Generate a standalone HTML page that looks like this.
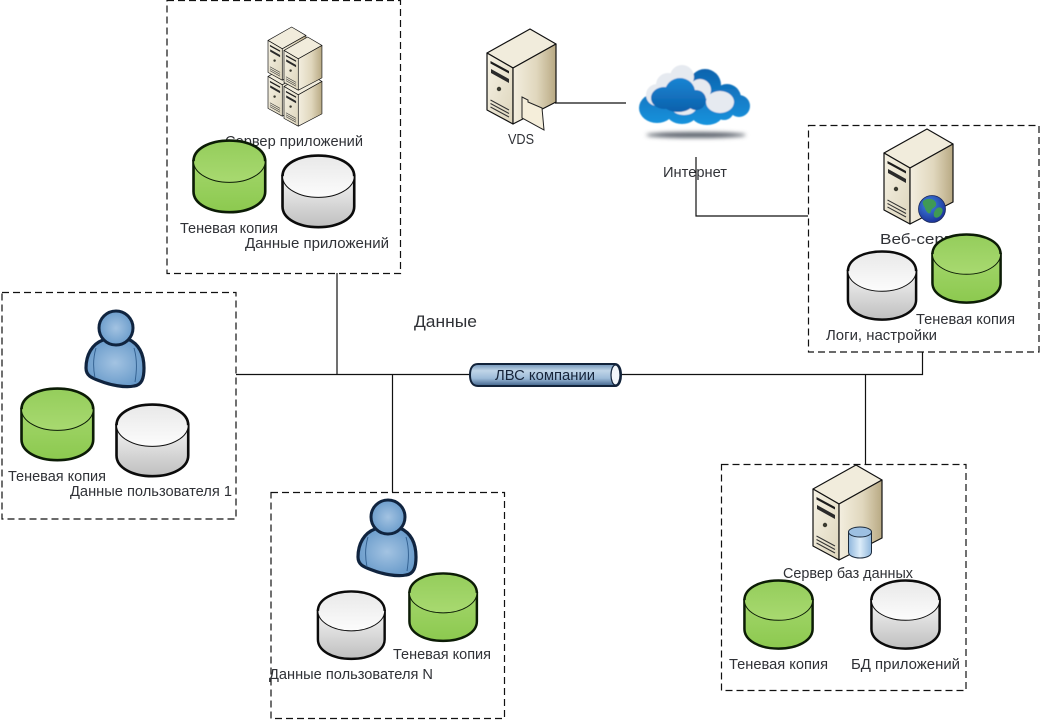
<!DOCTYPE html>
<html><head><meta charset="utf-8">
<style>
html,body{margin:0;padding:0;background:#fff;width:1041px;height:720px;overflow:hidden}
svg{display:block}
text{font-family:"Liberation Sans",sans-serif;font-size:15px;fill:#2f3136}
</style></head><body>
<svg width="1041" height="720" viewBox="0 0 1041 720" xmlns="http://www.w3.org/2000/svg">
<defs>
<linearGradient id="gs" x1="0" y1="0" x2="0" y2="1"><stop offset="0" stop-color="#f4f4f4"/><stop offset="1" stop-color="#bfbfbf"/></linearGradient>
<linearGradient id="gt" x1="0" y1="0" x2="0" y2="1"><stop offset="0" stop-color="#e8e8e8"/><stop offset="1" stop-color="#fcfcfc"/></linearGradient>
<linearGradient id="grs" x1="0" y1="0" x2="0" y2="1"><stop offset="0" stop-color="#a3d66b"/><stop offset="1" stop-color="#8cc94f"/></linearGradient>
<linearGradient id="grt" x1="0" y1="0" x2="0" y2="1"><stop offset="0" stop-color="#94cd5b"/><stop offset="1" stop-color="#a8d970"/></linearGradient>
<linearGradient id="tf" x1="0" y1="0" x2="1" y2="1"><stop offset="0" stop-color="#f6f2e4"/><stop offset="1" stop-color="#ddd5bc"/></linearGradient>
<linearGradient id="tr" x1="0" y1="0" x2="1" y2="0"><stop offset="0" stop-color="#f3eedf"/><stop offset="0.55" stop-color="#e0d7bd"/><stop offset="1" stop-color="#b8a983"/></linearGradient>
<linearGradient id="pipe" x1="0" y1="0" x2="0" y2="1"><stop offset="0" stop-color="#6f93b8"/><stop offset="0.3" stop-color="#c0d5e8"/><stop offset="0.65" stop-color="#9dbbd8"/><stop offset="1" stop-color="#3f628a"/></linearGradient>
<radialGradient id="pb" cx="0.5" cy="0.5" r="0.65"><stop offset="0" stop-color="#a3c3e2"/><stop offset="1" stop-color="#5c92c5"/></radialGradient>
<radialGradient id="glb" cx="0.4" cy="0.35" r="0.7"><stop offset="0" stop-color="#3f86e0"/><stop offset="1" stop-color="#1a2f96"/></radialGradient>
<linearGradient id="cb" gradientUnits="userSpaceOnUse" x1="0" y1="77" x2="0" y2="114"><stop offset="0" stop-color="#1b86d4"/><stop offset="1" stop-color="#0b5ea9"/></linearGradient>
<linearGradient id="cb2" gradientUnits="userSpaceOnUse" x1="0" y1="68" x2="0" y2="126"><stop offset="0" stop-color="#0d62ad"/><stop offset="1" stop-color="#1a94de"/></linearGradient>
<linearGradient id="mini" x1="0" y1="0" x2="1" y2="0"><stop offset="0" stop-color="#8fb6dc"/><stop offset="0.5" stop-color="#dcecf9"/><stop offset="1" stop-color="#8fb6dc"/></linearGradient>
<filter id="bl" x="-20%" y="-200%" width="140%" height="500%"><feGaussianBlur stdDeviation="2"/></filter>
<filter id="soft" x="-5%" y="-5%" width="110%" height="110%"><feGaussianBlur stdDeviation="0.5"/></filter>

<g id="cylW">
<path d="M1.5 22 V52 C1.5 64 17 72.5 37 72.5 S72.5 64 72.5 52 V22 Z" fill="url(#gs)" stroke="#0b0b0b" stroke-width="2.6"/>
<ellipse cx="37" cy="22" rx="35.5" ry="21" fill="url(#gt)" stroke="#0b0b0b" stroke-width="1"/>
<path d="M1.5 22 C1.5 10 17 1.5 37 1.5 S72.5 10 72.5 22" fill="none" stroke="#0b0b0b" stroke-width="2.6"/>
</g>
<g id="cylG">
<path d="M1.5 22 V52 C1.5 64 17 72.5 37 72.5 S72.5 64 72.5 52 V22 Z" fill="url(#grs)" stroke="#0c1c06" stroke-width="2.6"/>
<ellipse cx="37" cy="22" rx="35.5" ry="21" fill="url(#grt)" stroke="#0c1c06" stroke-width="1"/>
<path d="M1.5 22 C1.5 10 17 1.5 37 1.5 S72.5 10 72.5 22" fill="none" stroke="#0c1c06" stroke-width="2.6"/>
</g>
<g id="tower">
<polygon points="0,24 43,0 69,15 26,39" fill="#f1ecdc" stroke="#111" stroke-width="1.2" stroke-linejoin="round"/>
<polygon points="0,24 26,39 26,95 0,81" fill="url(#tf)" stroke="#111" stroke-width="1.2" stroke-linejoin="round"/>
<polygon points="26,39 69,15 69,73 26,95" fill="url(#tr)" stroke="#111" stroke-width="1.2" stroke-linejoin="round"/>
<polygon points="3.5,32 22,42 22,44.5 3.5,34.5" fill="#1c1c1c"/>
<polygon points="4,40 22,50 22,54 4,44" fill="#2a2a2a"/>
<circle cx="12" cy="60" r="2.2" fill="#3b3b30"/>
<path d="M3.5 71 L22 81 M3.5 74.5 L22 84.5 M3.5 78 L22 88" stroke="#333" stroke-width="1" fill="none"/>
</g>
<g id="person">
<path d="M103 340 C92 344 86 355 86 368 C86 376 92 378 100 381 C110 385 125 388 134 386 C142 385 144 378 144 368 C144 354 139 344 128 339 Z" fill="url(#pb)" stroke="#10243f" stroke-width="3.2" stroke-linejoin="round"/>
<path d="M96 348 C93 358 93 368 95 378 M134 348 C137 358 137 370 135 382" fill="none" stroke="#2f5d8d" stroke-width="0.9"/>
<circle cx="116" cy="328" r="17" fill="url(#pb)" stroke="#10243f" stroke-width="3"/>
</g>
</defs>

<rect width="1041" height="720" fill="#fff"/>

<!-- connectors -->
<g stroke="#111" stroke-width="1.2" fill="none">
<path d="M236 374.500 H470 M621 374.500 H922.500 V352"/>
<path d="M337 273 V374.500 M392.500 374.500 V492 M865.500 374.500 V464"/>
<path d="M555 103 H626"/>
</g>

<!-- dashed boxes -->
<g fill="none" stroke="#111" stroke-width="1.2" stroke-dasharray="7 4">
<rect x="167" y="0.500" width="233.500" height="273"/>
<rect x="808.500" y="125.500" width="230.500" height="226.500"/>
<rect x="2" y="292.500" width="234" height="226.500"/>
<rect x="271" y="492.500" width="233.500" height="226"/>
<rect x="721.500" y="464.500" width="244.500" height="226"/>
</g>

<!-- labels beneath shapes -->
<text x="225" y="146" textLength="138" lengthAdjust="spacingAndGlyphs">Сервер приложений</text>
<text x="880" y="244" textLength="92" lengthAdjust="spacingAndGlyphs">Веб-сервер</text>
<text x="783" y="578" textLength="130" lengthAdjust="spacingAndGlyphs">Сервер баз данных</text>
<text x="663" y="177" textLength="64" lengthAdjust="spacingAndGlyphs">Интернет</text>
<path d="M696 157 V216 H808" stroke="#111" stroke-width="1.2" fill="none"/>

<!-- app server cluster -->
<use href="#tower" transform="translate(268,63) scale(.55,.56)"/>
<use href="#tower" transform="translate(284,73) scale(.55,.56)"/>
<use href="#tower" transform="translate(268,27) scale(.55,.56)"/>
<use href="#tower" transform="translate(284,37) scale(.55,.56)"/>

<!-- VDS -->
<use href="#tower" transform="translate(487,29)"/>
<polygon points="522,97 528,100 528,102 542,108 544,130 522,118" fill="#f5eeda" stroke="#222" stroke-width="1"/>

<!-- web server -->
<use href="#tower" transform="translate(884,129)"/>
<circle cx="932" cy="209" r="13.500" fill="url(#glb)" stroke="#1a2a5c" stroke-width="0.8"/>
<path d="M923 201 C928 197 935 199 936 203 C937 208 932 207 931 211 C930 216 926 212 925 208 C924 206 922 204 923 201Z" fill="#3f9a55"/>
<path d="M937 208 C941 206 944 209 942 213 C940 218 935 219 934 216 C933 213 935 210 937 208Z" fill="#3f9a55"/>

<!-- db server -->
<use href="#tower" transform="translate(813,465)"/>
<path d="M848.500 532 V552 C848.500 560 871.500 560 871.500 552 V532 Z" fill="url(#mini)" stroke="#1b2a3c" stroke-width="1"/>
<ellipse cx="860" cy="532" rx="11.500" ry="5" fill="#9dc0e2" stroke="#1b2a3c" stroke-width="1"/>

<!-- cloud -->
<ellipse cx="696" cy="135" rx="50" ry="2.800" fill="#555c66" filter="url(#bl)"/>
<g filter="url(#soft)">
<g fill="url(#cb2)">
<circle cx="705" cy="85" r="16"/><circle cx="727" cy="98" r="14"/><circle cx="739" cy="106" r="11"/>
<ellipse cx="707" cy="112" rx="17" ry="13"/><ellipse cx="657" cy="108" rx="18" ry="15"/><ellipse cx="682" cy="112" rx="16" ry="12"/>
<circle cx="724" cy="110" r="10"/>
</g>
<g fill="#e6eaf0">
<circle cx="682" cy="77" r="12"/><circle cx="657" cy="95" r="11"/><circle cx="668" cy="85" r="12"/>
<ellipse cx="720" cy="102" rx="14" ry="11"/><circle cx="700" cy="90" r="11"/><ellipse cx="684" cy="108" rx="12" ry="7"/>
</g>
<g fill="url(#cb)">
<ellipse cx="664" cy="98" rx="13" ry="11"/><ellipse cx="680" cy="92" rx="15" ry="14"/><circle cx="696" cy="100" r="10"/><ellipse cx="678" cy="102" rx="16" ry="10"/>
</g>
</g>

<!-- persons -->
<use href="#person"/>
<use href="#person" transform="translate(272,189)"/>

<!-- cylinders -->
<use href="#cylG" transform="translate(192,139) scale(1.01)"/>
<use href="#cylW" transform="translate(281,154) scale(1.01)"/>
<use href="#cylW" transform="translate(846.500,250) scale(.96)"/>
<use href="#cylG" transform="translate(931,233) scale(.96)"/>
<use href="#cylG" transform="translate(20,387) scale(1.01)"/>
<use href="#cylW" transform="translate(115,403) scale(1.01)"/>
<use href="#cylW" transform="translate(316.500,590) scale(.94,.95)"/>
<use href="#cylG" transform="translate(408,572) scale(.95,.95)"/>
<use href="#cylG" transform="translate(743,579) scale(.96)"/>
<use href="#cylW" transform="translate(870,579) scale(.96)"/>

<!-- pipe -->
<path d="M478 364 H615 C619 364 621 369 621 375 C621 381 619 386 615 386 H478 C472 386 470 381 470 375 C470 369 472 364 478 364Z" fill="url(#pipe)" stroke="#12233a" stroke-width="2"/>
<ellipse cx="615.500" cy="375" rx="4.500" ry="10" fill="#f2f6fa" stroke="#12233a" stroke-width="1.2"/>
<text x="495" y="380" textLength="100" lengthAdjust="spacingAndGlyphs" style="fill:#16243a">ЛВС компании</text>

<!-- labels -->
<text x="180" y="233" textLength="98" lengthAdjust="spacingAndGlyphs">Теневая копия</text>
<text x="245" y="248" textLength="144" lengthAdjust="spacingAndGlyphs">Данные приложений</text>
<text x="508" y="144" textLength="26" lengthAdjust="spacingAndGlyphs">VDS</text>
<text x="916" y="324" textLength="99" lengthAdjust="spacingAndGlyphs">Теневая копия</text>
<text x="826" y="340" textLength="111" lengthAdjust="spacingAndGlyphs">Логи, настройки</text>
<text x="414" y="327" textLength="63" lengthAdjust="spacingAndGlyphs" style="font-size:17px">Данные</text>
<text x="8" y="481" textLength="98" lengthAdjust="spacingAndGlyphs">Теневая копия</text>
<text x="70" y="496" textLength="162" lengthAdjust="spacingAndGlyphs">Данные пользователя 1</text>
<text x="393" y="659" textLength="98" lengthAdjust="spacingAndGlyphs">Теневая копия</text>
<text x="269" y="679" textLength="164" lengthAdjust="spacingAndGlyphs">Данные пользователя N</text>
<text x="729" y="669" textLength="99" lengthAdjust="spacingAndGlyphs">Теневая копия</text>
<text x="851" y="669" textLength="109" lengthAdjust="spacingAndGlyphs">БД приложений</text>
</svg>
</body></html>
